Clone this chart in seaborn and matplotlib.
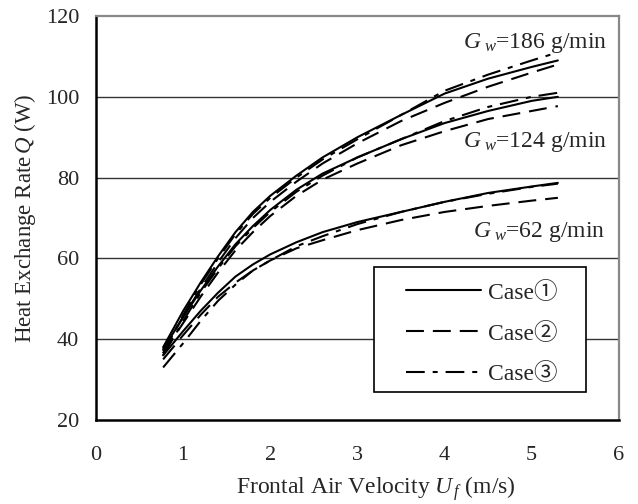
import numpy as np
import pandas as pd
import matplotlib
matplotlib.use("Agg")
import matplotlib.pyplot as plt
from matplotlib.patches import Rectangle
import seaborn as sns

# frontal air velocity (m/s), same for all curves
u_f = [0.77, 1.0, 1.2, 1.4, 1.6, 1.8, 2.0, 2.3, 2.6, 3.0, 3.5, 4.0, 4.5, 5.0, 5.3]

# heat exchange rate Q (W)
q186_c1 = [38, 47, 54, 60.5, 66.5, 71.5, 75.5, 80.5, 85, 90, 95.5, 100.8, 104.5, 107.4, 109]
q186_c2 = [37, 45.5, 52.5, 59, 65, 70, 74, 79, 83.5, 88.5, 94, 98.5, 102.5, 106, 108]
q186_c3 = [36.5, 46, 53.5, 60, 66, 71, 75, 80, 84.5, 89.5, 95.5, 101.5, 105.5, 109, 111]
q124_c1 = [37.5, 45.5, 52, 58, 63.5, 68, 72, 77, 81, 85, 89.5, 93.5, 96.5, 99, 100]
q124_c2 = [36.5, 44, 50.5, 56.5, 62, 66.5, 70.5, 75.5, 79.5, 83.5, 88, 91.5, 94.5, 96.5, 97.7]
q124_c3 = [36, 44.5, 51.5, 57.5, 63, 67.5, 71.5, 76.5, 80.5, 85, 89.5, 94, 97.5, 100, 101]
q62_c1 = [36, 42, 47, 51.5, 55.5, 58.5, 61, 64, 66.5, 69, 71.5, 74, 76.2, 77.8, 78.7]
q62_c2 = [35, 41, 46, 50.5, 54, 57, 59.5, 62.5, 64.5, 67, 69.5, 71.5, 73, 74.3, 75]
q62_c3 = [33, 39, 44.5, 49.5, 53.5, 57, 59.5, 63, 65.5, 68.5, 71.5, 74, 76, 77.7, 78.5]

cases = ["Case①", "Case②", "Case③"]
gw_labels = ["186", "124", "62"]
series = {
    ("186", cases[0]): q186_c1, ("186", cases[1]): q186_c2, ("186", cases[2]): q186_c3,
    ("124", cases[0]): q124_c1, ("124", cases[1]): q124_c2, ("124", cases[2]): q124_c3,
    ("62", cases[0]): q62_c1, ("62", cases[1]): q62_c2, ("62", cases[2]): q62_c3,
}

rows = []
for (gw, case), qs in series.items():
    for u, q in zip(u_f, qs):
        rows.append({"U": u, "Q": q, "Gw": gw, "case": case})
df = pd.DataFrame(rows)

sns.set_style("white")
plt.rcParams["font.family"] = ["Liberation Serif", "Noto Sans CJK JP", "DejaVu Sans"]
plt.rcParams["mathtext.fontset"] = "custom"
plt.rcParams["mathtext.rm"] = "Liberation Serif"
plt.rcParams["mathtext.it"] = "Liberation Serif:italic"

fig = plt.figure(figsize=(6.38, 5.04), dpi=100)
ax = fig.add_axes([0.1505, 0.1667, 0.8195, 0.8015])

dash_map = {cases[0]: "", cases[1]: (8.6, 4.3), cases[2]: (9, 3.8, 2.4, 3.8)}
sns.lineplot(data=df, x="U", y="Q", style="case", units="Gw", estimator=None,
             color="black", linewidth=1.5, dashes=dash_map, sort=False,
             legend=True, ax=ax)

ax.set_xlim(0, 6)
ax.set_ylim(20, 120)
ax.set_xticks(range(0, 7))
ax.set_yticks(range(20, 121, 20))
for y in [40, 60, 80, 100]:
    ax.axhline(y, color="#333333", linewidth=1.0, zorder=0)

ax.tick_params(axis="both", direction="in", length=5, width=1, labelsize=16,
               color="black")
ax.tick_params(axis="x", pad=19)
ax.tick_params(axis="y", pad=12)
for side in ["left", "bottom"]:
    ax.spines[side].set_color("black")
    ax.spines[side].set_linewidth(1.8)
for side in ["top", "right"]:
    ax.spines[side].set_color("#888888")
    ax.spines[side].set_linewidth(1.6)

ax.set_xlabel(r"Frontal Air Velocity $U_{\,f}$ (m/s)", fontsize=17)
ax.xaxis.label.set_va("center")
ax.xaxis.set_label_coords(0.535, -0.17)
ax.set_ylabel(r"Heat Exchange Rate$\,Q$ (W)", fontsize=16.5, labelpad=6)

ann_size = 17
ann_x = [5.87, 5.87, 5.84]
ann_y = [113.3, 88.8, 66.5]
for gw, xx, yy in zip(gw_labels, ann_x, ann_y):
    ax.text(xx, yy, r"$G_{\ w}$=" + gw + " g/min", ha="right", va="center",
            fontsize=ann_size)

# legend box
ax.add_patch(Rectangle((0.532, 0.069), 0.405, 0.31, transform=ax.transAxes,
                       facecolor="white", edgecolor="black", linewidth=1.2, zorder=4))
handles, labels = ax.get_legend_handles_labels()
leg = ax.legend(handles, labels, loc="center left", bbox_to_anchor=(0.592, 0.214),
                fontsize=17, handlelength=3.2, handletextpad=0.3, labelspacing=0.8,
                frameon=False, borderpad=0, borderaxespad=0)
leg.set_zorder(5)

fig.savefig("out.png", dpi=100)
